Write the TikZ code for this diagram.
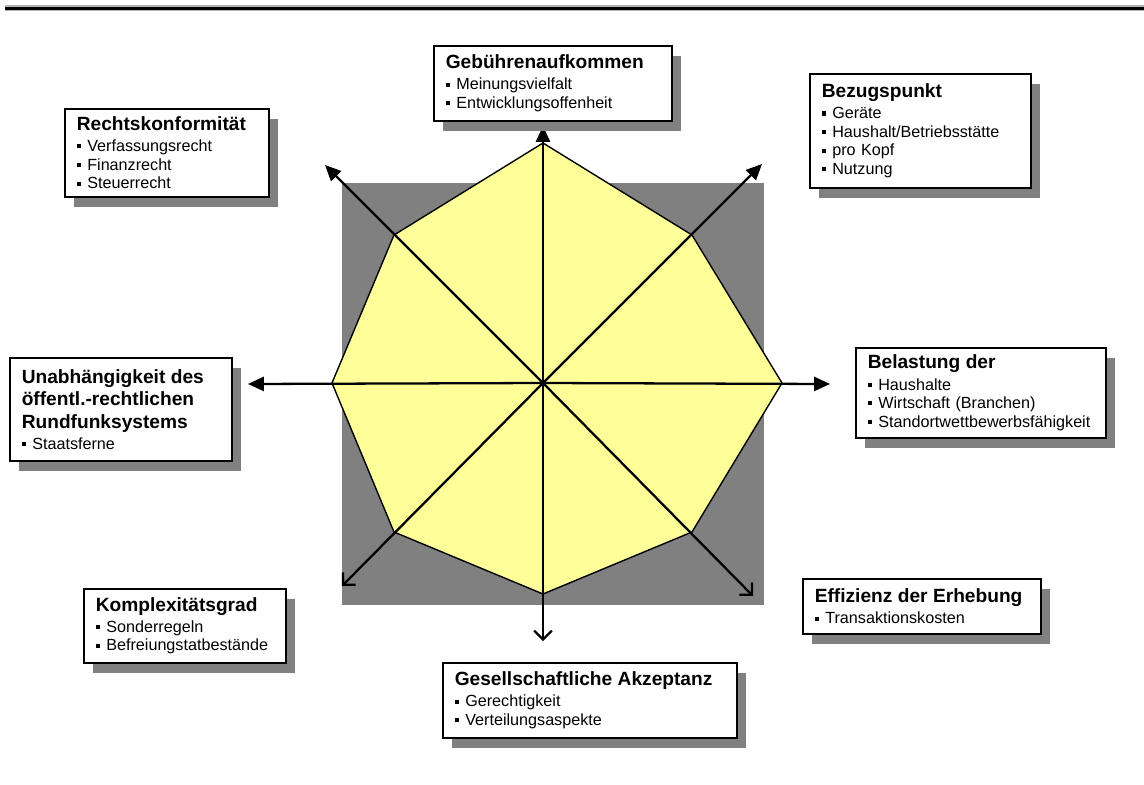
\documentclass[tikz,border=0pt]{standalone}
\usepackage{fontspec}
\setmainfont{Liberation Sans}
\definecolor{octyellow}{RGB}{255,255,153}
\definecolor{shadowgray}{RGB}{128,128,128}
\usetikzlibrary{arrows.meta,shadows}
\newcommand{\bul}{\rule[0.2em]{2.3pt}{2.3pt}\hspace{0.4em}}
\newcommand{\boxtitle}[1]{{\fontsize{10.9}{12.8}\selectfont\bfseries #1\par}\vspace{1.5pt}}
\tikzset{
  critbox/.style={draw, line width=0.9pt, fill=white, anchor=north west, align=left,
    inner xsep=0.24cm, inner ysep=0.1cm, font=\fontsize{9.2}{10.6}\selectfont,
    drop shadow={shadow xshift=0.19cm, shadow yshift=-0.2cm, fill=shadowgray, opacity=1}},
  axisarrow/.style={line width=1.3pt, -{Triangle[length=9pt,width=8pt]}},
  axisopen/.style={line width=1.3pt, -{Straight Barb[length=5pt,width=10pt]}}
}

\begin{document}
\begin{tikzpicture}[x=0.02cm, y=-0.02cm]
  \useasboundingbox (0,0) rectangle (1144,785);
  % header rule
  \draw[shadowgray!60, line width=0.11cm] (5,8) -- (1144,8);
  \draw[line width=0.07cm] (5,8.5) -- (1144,8.5);

  % octagon with its shadow square
  \coordinate (c) at (543,383);
  \coordinate (vn) at (543,143);
  \coordinate (vne) at (692,235);
  \coordinate (ve) at (782,383);
  \coordinate (vse) at (692,532);
  \coordinate (vs) at (543,594);
  \coordinate (vsw) at (394,532);
  \coordinate (vw) at (332,383);
  \coordinate (vnw) at (394,235);
  \fill[shadowgray] (342,183) rectangle (764,605);
  \filldraw[fill=octyellow, line width=0.8pt] (vn) -- (vne) -- (ve) -- (vse) -- (vs) -- (vsw) -- (vw) -- (vnw) -- cycle;

  % arrow ends
  \coordinate (tn) at (543,126);
  \coordinate (tne) at (762,164);
  \coordinate (te) at (830,384);
  \coordinate (tse) at (753,596);
  \coordinate (ts) at (543,641);
  \coordinate (tsw) at (342,586);
  \coordinate (tw) at (248,384);
  \coordinate (tnw) at (325,165);
  \draw[axisarrow] (c) -- (tn);
  \draw[axisarrow] (c) -- (tne);
  \draw[axisarrow] (c) -- (te);
  \draw[axisarrow] (c) -- (tw);
  \draw[axisarrow] (c) -- (tnw);
  \draw[axisopen] (c) -- (tse);
  \draw[axisopen] (c) -- (ts);
  \draw[axisopen] (c) -- (tsw);

  % criteria
  \node[critbox, text width=4.28cm, minimum height=1.5cm] (gebuehr) at (433,45)
    {\boxtitle{Gebührenaufkommen}\bul Meinungsvielfalt\\\bul Entwicklungsoffenheit};
  \node[critbox, text width=3.94cm, minimum height=2.28cm] (bezug) at (809,73)
    {\boxtitle{Bezugspunkt}\bul Geräte\\\bul Haushalt/Betriebsstätte\\\bul pro Kopf\\\bul Nutzung};
  \node[critbox, text width=3.6cm, minimum height=1.76cm] (recht) at (64,108)
    {\boxtitle{Rechtskonformität}\bul Verfassungsrecht\\\bul Finanzrecht\\\bul Steuerrecht};
  \node[critbox, text width=3.96cm, minimum height=2.06cm] (unabh) at (9,357)
    {\boxtitle{Unabhängigkeit des\\öffentl.-rechtlichen\\Rundfunksystems}\bul Staatsferne};
  \node[critbox, text width=4.52cm, minimum height=1.8cm] (belast) at (855,347)
    {\boxtitle{Belastung der}\bul Haushalte\\\bul Wirtschaft (Branchen)\\\bul Standortwettbewerbsfähigkeit};
  \node[critbox, text width=3.56cm, minimum height=1.48cm] (komplex) at (83,588)
    {\boxtitle{Komplexitätsgrad}\bul Sonderregeln\\\bul Befreiungstatbestände};
  \node[critbox, text width=5.4cm, minimum height=1.5cm] (akzept) at (442,662)
    {\boxtitle{Gesellschaftliche Akzeptanz}\bul Gerechtigkeit\\\bul Verteilungsaspekte};
  \node[critbox, text width=4.28cm, minimum height=1.1cm] (effiz) at (802,578)
    {\boxtitle{Effizienz der Erhebung}\bul Transaktionskosten};
\end{tikzpicture}
\end{document}
